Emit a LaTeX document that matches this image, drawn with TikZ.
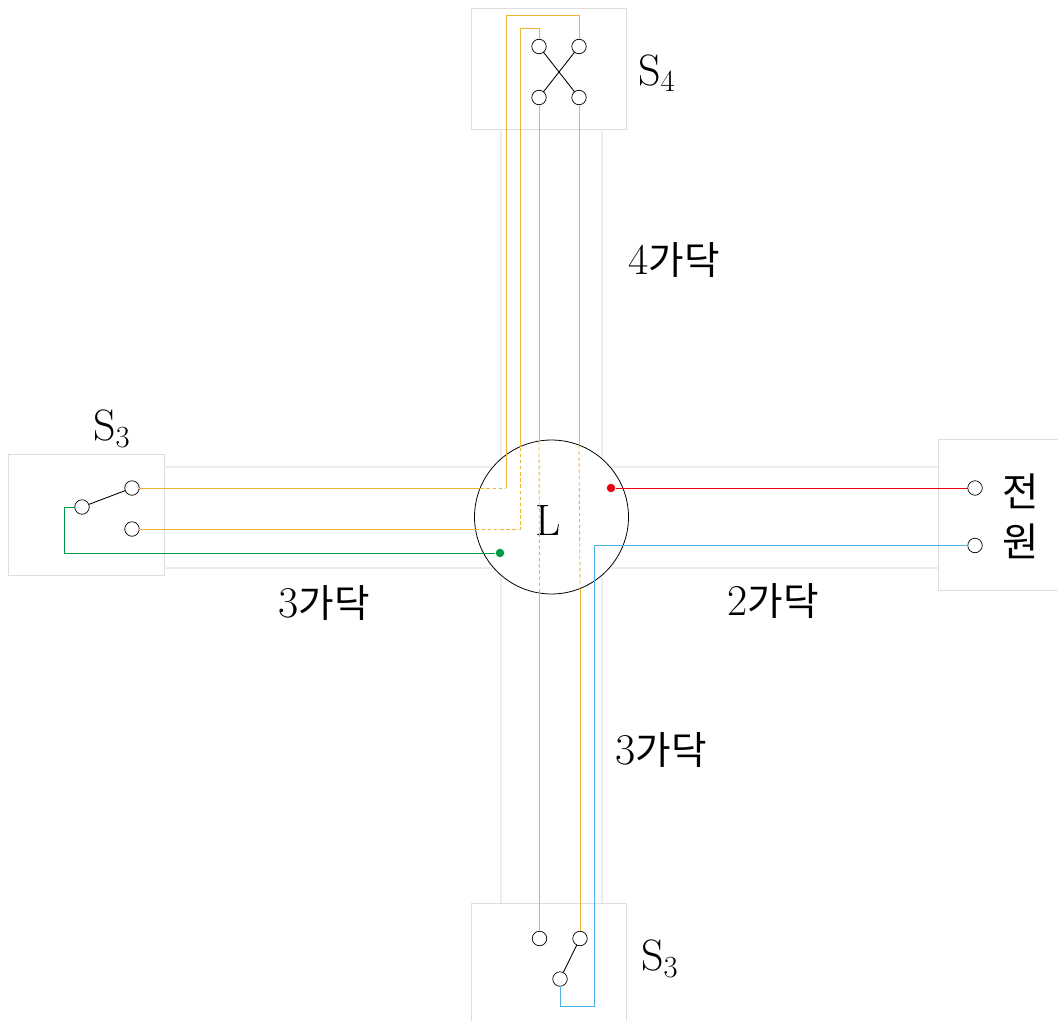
\documentclass[tikz,border=0pt]{standalone}
\usepackage{fontspec}
\newfontfamily\krfont{Noto Sans CJK KR}
\definecolor{wireyellow}{HTML}{F2B233}
\definecolor{wiregreen}{HTML}{009944}
\definecolor{wirered}{HTML}{E60012}
\definecolor{wireblue}{HTML}{4DB3E6}
\newcommand{\gadak}[1]{\fontsize{25}{30}\selectfont #1\krfont\fontsize{22}{30}\selectfont 가닥}
\tikzset{
  terminal/.style={draw,circle,fill=white,inner sep=0pt,outer sep=0pt,minimum size=0.29cm,line width=0.4pt},
  dot/.style={circle,fill=#1,inner sep=0pt,minimum size=0.17cm},
  box/.style={draw=black!13,line width=0.55pt},
  conduit/.style={draw=black!7,line width=0.8pt},
  wire/.style={line width=0.5pt},
  inside/.style={wire,dash pattern=on 2pt off 1.5pt},
  label/.style={inner sep=0pt,font=\fontsize{25}{30}\selectfont}
}
\begin{document}
\begin{tikzpicture}[x=0.02cm,y=-0.02cm]
    \useasboundingbox (0,0) rectangle (1058,1021);

    \draw [box] (471,8) rectangle (626,129);% Switch boxes
    \draw [box] (8,454.5) rectangle (164,575);
    \draw [box] (1058,439) -- (938,439) -- (938,590) -- (1058,590);
    \draw [box] (471,1021) -- (471,903) -- (626,903) -- (626,1021);

    \foreach \y in {467,568}{% Conduit running left to right
      \draw [conduit] (164,\y) -- (938,\y);
    }
    \foreach \x in {501,602}{% Conduit running top to bottom
      \draw [conduit] (\x,129) -- (\x,903);
    }

    \node[draw,circle,fill=white,inner sep=0pt,minimum size=3.08cm,line width=0.45pt] (lamp) at (551.5,517) {};
    \node[label] (lampname) at (548,520) {L};

    % Terminals
    \node[terminal] (fourA) at (539,46.5) {};
    \node[terminal] (fourB) at (579,46.5) {};
    \node[terminal] (fourC) at (539,97.5) {};
    \node[terminal] (fourD) at (579,97.5) {};
    \node[terminal] (leftC) at (82,507) {};
    \node[terminal] (leftA) at (132,488) {};
    \node[terminal] (leftB) at (132,529) {};
    \node[terminal] (downA) at (539.5,938.5) {};
    \node[terminal] (downB) at (580,938.5) {};
    \node[terminal] (downC) at (560,979) {};
    \node[terminal] (srcA) at (975,488) {};
    \node[terminal] (srcB) at (975,545.5) {};
    \node[dot=wiregreen] (jointG) at (500,553) {};
    \node[dot=wirered] (jointR) at (611,488) {};

    \draw [wire] (fourA) -- (fourD);
    \draw [wire] (fourB) -- (fourC);
    \draw [wire] (leftC) -- (leftA);
    \draw [wire] (downB) -- (downC);

    % Wire from left switch to far top terminal
    \coordinate (edgeA) at (480.2,488);
    \coordinate (cornerA) at (506,488);
    \draw [wire,wireyellow] (leftA) -- (edgeA);
    \draw [inside,wireyellow] (edgeA) -- (cornerA);
    \draw [wire,wireyellow] (cornerA) -- (506,15) -| (fourB);

    % Wire from left switch to near top terminal
    \coordinate (edgeB) at (475.5,529);
    \coordinate (cornerB) at (520.5,529);
    \coordinate (edgeC) at (520.5,446.5);
    \draw [wire,wireyellow] (leftB) -- (edgeB);
    \draw [inside,wireyellow] (edgeB) -- (cornerB) -- (edgeC);
    \draw [wire,wireyellow] (edgeC) -- (520.5,28) -| (fourA);

    % Wires from top switch to bottom switch
    \coordinate (edgeD) at (539,441);
    \coordinate (edgeE) at (539.5,593);
    \coordinate (edgeF) at (579,445);
    \coordinate (edgeG) at (580,589);
    \draw [wire,wireyellow] (fourC) -- (edgeD);
    \draw [inside,wireyellow] (edgeD) -- (edgeE);
    \draw [wire,wireyellow] (edgeE) -- (downA);
    \draw [wire,wireyellow] (fourD) -- (edgeF);
    \draw [inside,wireyellow] (edgeF) -- (edgeG);
    \draw [wire,wireyellow] (edgeG) -- (downB);

    \draw [wire,wiregreen] (leftC) -- (64,507) -- (64,553) -- (jointG);
    \draw [wire,wirered] (jointR) -- (srcA);
    \draw [wire,wireblue] (srcB) -- (594,545.5) -- (594,1006) -- (560,1006) -- (downC);

    % Labels
    \node[label] (nameTop) at (657,73) {S\textsubscript{4}};
    \node[label] (nameLeft) at (112,429) {S\textsubscript{3}};
    \node[label] (nameDown) at (660,959) {S\textsubscript{3}};
    \node[inner sep=0pt] (countTop) at (674,260) {\gadak{4}};
    \node[inner sep=0pt] (countLeft) at (324,603) {\gadak{3}};
    \node[inner sep=0pt] (countRight) at (773,601) {\gadak{2}};
    \node[inner sep=0pt] (countDown) at (661,750) {\gadak{3}};
    \node[inner sep=0pt,font=\krfont\fontsize{22.5}{30}\selectfont] (srcTop) at (1021,491) {전};
    \node[inner sep=0pt,font=\krfont\fontsize{22.5}{30}\selectfont] (srcDown) at (1021,541) {원};
  \end{tikzpicture}
\end{document}
